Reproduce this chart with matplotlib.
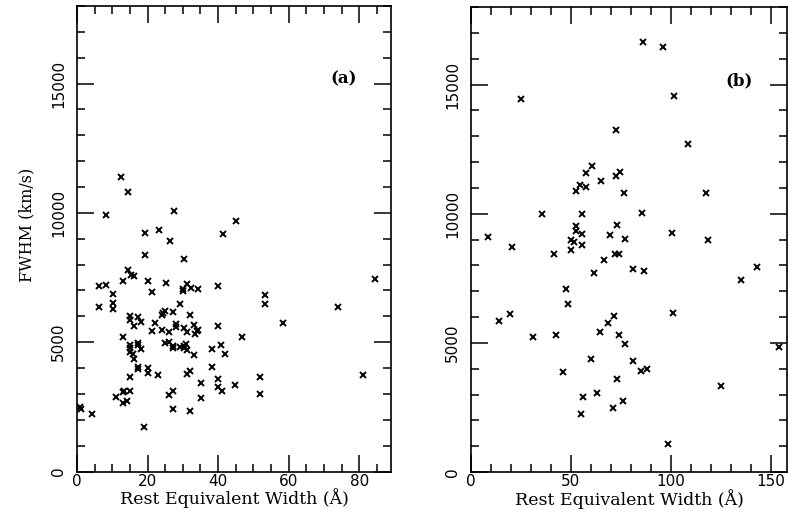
import matplotlib
matplotlib.use("Agg")
import matplotlib.pyplot as plt
from matplotlib.ticker import MultipleLocator

# ---- data: panel (a) ----
ew_a = [12.5, 14.4, 8.3, 27.4, 45.2, 41.3, 19.4, 23.3, 26.3, 19.4, 30.2, 14.4, 15.3, 16.2,
        13.1, 20.2, 21.2, 25.2, 30.1, 30.1, 31.2, 32.3, 34.2, 40.1, 6.3, 8.2, 10.1, 10.1,
        10.1, 6.3, 29.2, 53.3, 53.3, 24.0, 24.9, 24.4, 27.3, 32.1, 15.1, 15.1, 17.2, 16.2,
        18.1, 22.2, 21.2, 24.0, 26.1, 28.1, 28.1, 30.2, 31.3, 33.1, 33.4, 33.9, 34.4, 40.1,
        46.9, 13.1, 15.1, 15.1, 15.1, 15.8, 16.2, 17.2, 17.2, 18.1, 25.0, 26.1, 27.1, 27.1,
        29.3, 30.2, 30.2, 30.9, 31.2, 33.1, 38.2, 40.9, 42.0, 17.2, 17.2, 20.2, 20.2, 15.1,
        23.0, 31.2, 32.1, 38.2, 35.1, 40.1, 40.1, 41.1, 44.8, 51.9, 51.9, 12.9, 13.4, 15.1,
        11.0, 12.9, 14.1, 26.0, 27.1, 35.1, 27.1, 32.1, 0.85, 1.1, 4.2, 19.1, 84.4, 74.1,
        58.3, 81.2]
fwhm_a = [11390, 10800, 9910, 10090, 9670, 9180, 9215, 9320, 8905, 8390, 8200, 7785, 7615, 7550,
          7385, 7385, 6945, 7270, 7040, 6990, 7255, 7100, 7060, 7165, 7165, 7205, 6845, 6520,
          6300, 6365, 6460, 6820, 6480, 6070, 6200, 6140, 6160, 6045, 6005, 5850, 5980, 5620,
          5785, 5725, 5425, 5490, 5385, 5685, 5580, 5530, 5400, 5655, 5300, 5450, 5490, 5620,
          5205, 5195, 4910, 4780, 4625, 4525, 4355, 4975, 4885, 4720, 4975, 5010, 4845, 4780,
          4805, 4845, 4780, 4935, 4690, 4495, 4755, 4910, 4525, 4035, 3970, 3985, 3790, 3645,
          3750, 3775, 3880, 4035, 3425, 3580, 3260, 3130, 3335, 3645, 2980, 3080, 3105, 3130,
          2875, 2630, 2745, 2940, 3105, 2845, 2435, 2330, 2485, 2435, 2205, 1715, 7450, 6365,
          5745, 3750]

# ---- data: panel (b) ----
ew_b = [24.9, 72.7, 60.6, 57.6, 72.6, 74.6, 64.8, 54.7, 52.7, 57.6, 76.4, 35.6, 55.5, 73.1,
        52.3, 52.3, 55.5, 8.3, 69.6, 77.2, 50.2, 51.5, 55.5, 20.3, 50.2, 41.4, 72.2, 74.2,
        66.5, 61.3, 47.3, 48.5, 19.4, 14.1, 71.3, 68.5, 31.1, 42.4, 64.3, 74.2, 77.1, 60.1,
        46.2, 72.9, 63.0, 56.2, 75.9, 70.9, 55.2, 86.2, 96.2, 101.6, 108.6, 117.4, 85.5, 100.5,
        118.3, 81.2, 86.4, 143.2, 135.2, 101.1, 81.2, 85.1, 88.0, 124.9, 154.0, 98.3]
fwhm_b = [14430, 13255, 11845, 11590, 11445, 11610, 11265, 11095, 10875, 11030, 10800, 9975, 9975, 9575,
          9510, 9325, 9225, 9095, 9185, 9005, 8990, 8900, 8770, 8705, 8580, 8450, 8450, 8450,
          8215, 7700, 7080, 6510, 6125, 5835, 6020, 5775, 5245, 5310, 5410, 5310, 4960, 4355,
          3860, 3605, 3060, 2890, 2735, 2480, 2250, 16650, 16455, 14560, 12715, 10815, 10025, 9265,
          8990, 7870, 7775, 7930, 7415, 6165, 4315, 3900, 3990, 3320, 4830, 1085]

xlabel = "Rest Equivalent Width (Å)"
ylabel = "FWHM (km/s)"
panel_tags = ["(a)", "(b)"]
y_ticks = [0, 5000, 10000, 15000]

serif = ["DejaVu Serif"]
W, H = 788, 518
fig = plt.figure(figsize=(W / 100, H / 100), dpi=100)

def frac(l, r, t, b):
    return [l / W, 1 - b / H, (r - l) / W, (b - t) / H]

ax_a = fig.add_axes(frac(77, 391, 6, 471.5))
ax_b = fig.add_axes(frac(471, 787, 7, 472))

settings = [
    (ax_a, ew_a, fwhm_a, (0, 89), 20, 5, (75.7, 15170)),
    (ax_b, ew_b, fwhm_b, (0, 158), 50, 10, (134, 15130)),
]

for i, (ax, xs, ys, xlim, xmaj, xmin, tagpos) in enumerate(settings):
    ax.plot(xs, ys, linestyle="none", marker="x", markersize=4.2,
            markeredgewidth=1.4, color="black")
    ax.set_xlim(*xlim)
    ax.set_ylim(0, 18000)
    ax.xaxis.set_major_locator(MultipleLocator(xmaj))
    ax.xaxis.set_minor_locator(MultipleLocator(xmin))
    ax.set_yticks(y_ticks)
    ax.yaxis.set_minor_locator(MultipleLocator(1000))
    ax.tick_params(which="both", direction="in", top=True, right=True,
                   width=1.1, color="black")
    ax.tick_params(which="major", length=12)
    ax.tick_params(which="minor", length=6)
    ax.tick_params(axis="x", which="major", pad=1.5, labelsize=11)
    ax.tick_params(axis="y", which="major", pad=8, labelsize=11)
    for lab in ax.get_yticklabels():
        lab.set_rotation(90)
        lab.set_va("center")
    for sp in ax.spines.values():
        sp.set_linewidth(1.2)
    ax.set_xlabel(xlabel, fontsize=12.5, family=serif, va="center")
    ax.xaxis.set_label_coords(0.5, -0.058)
    ax.text(tagpos[0], tagpos[1], panel_tags[i], fontsize=12, family=serif,
            fontweight="bold", ha="center", va="center")

ax_a.set_ylabel(ylabel, fontsize=11.5, family=serif, va="center")
ax_a.yaxis.set_label_coords(-0.159, 0.53)

fig.savefig("out.png", dpi=100)
